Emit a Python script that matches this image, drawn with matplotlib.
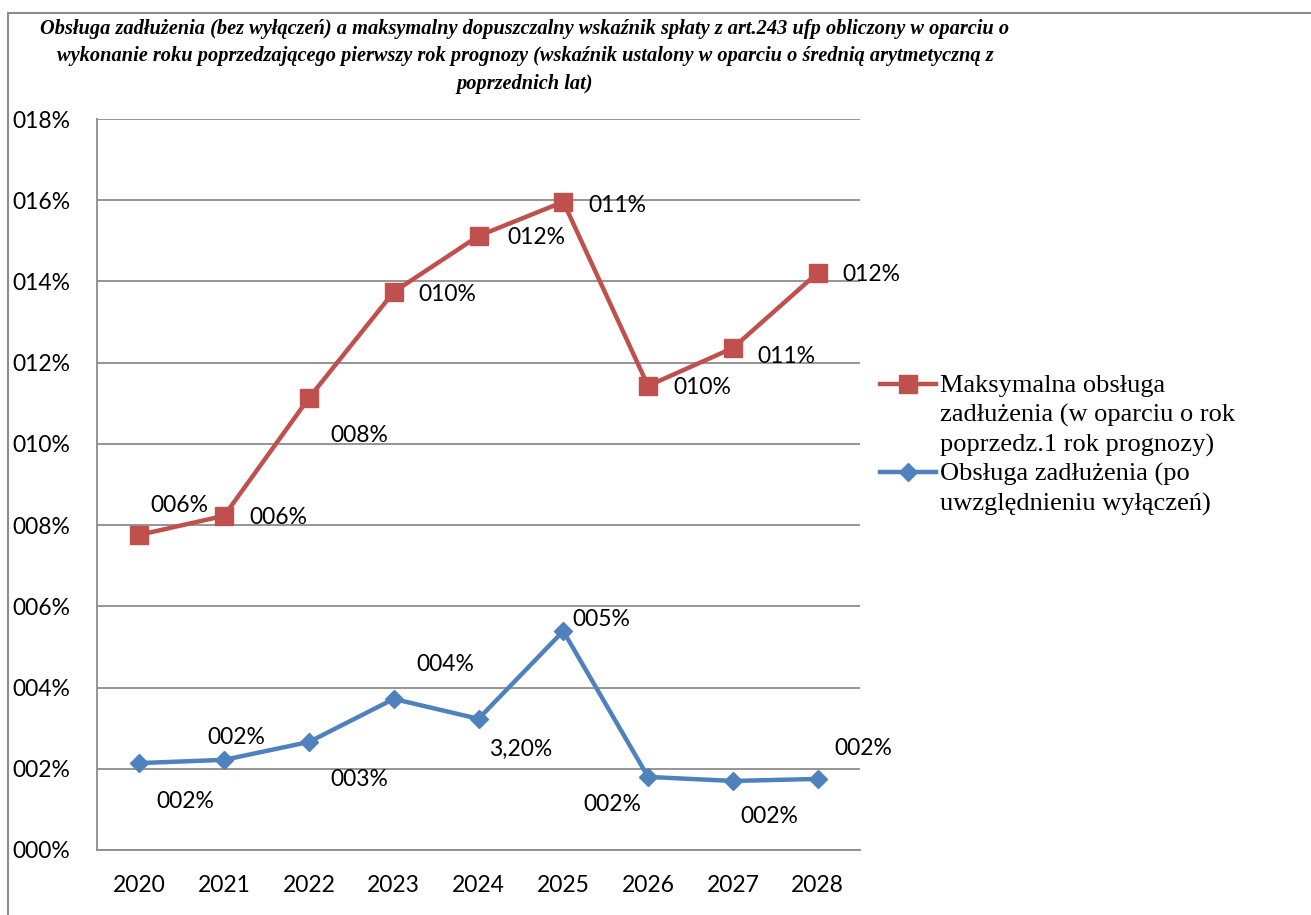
import matplotlib.pyplot as plt
from matplotlib.patches import Rectangle
from matplotlib.lines import Line2D

years = ["2020", "2021", "2022", "2023", "2024", "2025", "2026", "2027", "2028"]
max_obsluga = [7.76, 8.23, 11.13, 13.74, 15.12, 15.96, 11.43, 12.36, 14.21]
obsluga = [2.14, 2.22, 2.66, 3.72, 3.23, 5.39, 1.80, 1.70, 1.75]
max_labels = ["006%", "006%", "008%", "010%", "012%", "011%", "010%", "011%", "012%"]
obs_labels = ["002%", "002%", "003%", "004%", "3,20%", "005%", "002%", "002%", "002%"]
y_ticks = [0, 2, 4, 6, 8, 10, 12, 14, 16, 18]
y_tick_labels = ["000%", "002%", "004%", "006%", "008%", "010%", "012%", "014%", "016%", "018%"]

title = ("Obsługa zadłużenia (bez wyłączeń) a maksymalny dopuszczalny wskaźnik spłaty z art.243 ufp obliczony w oparciu o\n"
         "wykonanie roku poprzedzającego pierwszy rok prognozy (wskaźnik ustalony w oparciu o średnią arytmetyczną z\n"
         "poprzednich lat)")
leg_red = "Maksymalna obsługa\nzadłużenia (w oparciu o rok\npoprzedz.1 rok prognozy)"
leg_blue = "Obsługa zadłużenia (po\nuwzględnieniu wyłączeń)"

red = "#C0504D"
blue = "#4F81BD"
grid_c = "#8c8c8c"
font = "Lato"

# label offsets in pixels (dx, dy) relative to the marker
max_off = [(40, 29), (54, -2), (50, -38), (54, -2), (58, -2), (54, -4), (54, -2), (54, -8), (54, -2)]
obs_off = [(46, -38), (12, 22), (50, -38), (52, 34), (42, -31), (38, 12), (-36, -28), (36, -36), (46, 30)]

fig = plt.figure(figsize=(13.11, 9.15), dpi=100)
W, H = 1311, 915
ax = fig.add_axes([97 / W, 1 - 850 / H, 763 / W, 731 / H])

x = list(range(len(years)))
ax.plot(x, max_obsluga, color=red, lw=3.2, marker="s", markersize=12.5, zorder=3)
ax.plot(x, obsluga, color=blue, lw=3.2, marker="D", markersize=9, zorder=3)

for i in x:
    ax.annotate(max_labels[i], (i, max_obsluga[i]), xytext=(max_off[i][0] * 0.72, max_off[i][1] * 0.72),
                textcoords="offset points", ha="center", va="center", fontsize=16.5, family=font)
    ax.annotate(obs_labels[i], (i, obsluga[i]), xytext=(obs_off[i][0] * 0.72, obs_off[i][1] * 0.72),
                textcoords="offset points", ha="center", va="center", fontsize=16.5, family=font)

ax.set_xlim(-0.5, 8.5)
ax.set_ylim(0, 18)
ax.set_xticks(x)
ax.set_xticklabels(years, fontsize=16.5, family=font)
ax.set_yticks(y_ticks)
ax.set_yticklabels(y_tick_labels, fontsize=16.5, family=font, ha="left")
ax.tick_params(axis="y", length=0, pad=61)
ax.tick_params(axis="x", length=0, pad=18)
ax.grid(axis="y", color=grid_c, lw=1.3)
ax.set_axisbelow(True)
for s in ["top", "right"]:
    ax.spines[s].set_visible(False)
for s in ["left", "bottom"]:
    ax.spines[s].set_color(grid_c)
    ax.spines[s].set_linewidth(1.3)

# legend drawn by hand so the handle sits beside the first line of each entry
for yy, col, mk, ms, txt in [(384, red, "s", 12.5, leg_red), (472, blue, "D", 9, leg_blue)]:
    fig.add_artist(Line2D([880 / W, 936 / W], [1 - yy / H] * 2, color=col, lw=3.2,
                          transform=fig.transFigure))
    fig.add_artist(Line2D([908 / W], [1 - yy / H], color=col, marker=mk, markersize=ms,
                          transform=fig.transFigure))
    fig.text(940 / W, 1 - (yy - 9) / H, txt, ha="left", va="top", fontsize=19,
             family="Liberation Serif", linespacing=1.38)

fig.text(525 / W, 1 - 19 / H, title, ha="center", va="top", fontsize=14.7,
         family="Liberation Serif", weight="bold", style="italic", linespacing=1.5)

fig.add_artist(Rectangle((8 / W, -0.1), 1.2, 1 - 13 / H + 0.1, transform=fig.transFigure,
                         fill=False, edgecolor=grid_c, lw=1.5))

fig.savefig("out.png", dpi=100)
